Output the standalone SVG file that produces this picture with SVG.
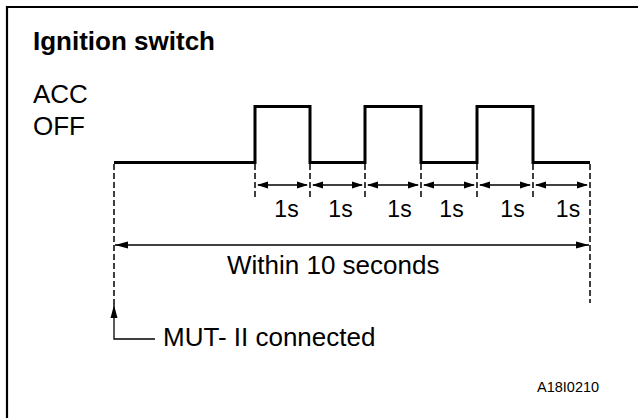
<svg xmlns="http://www.w3.org/2000/svg" width="638" height="418" viewBox="0 0 638 418">
<style>
text{font-family:"Liberation Sans",Arial,sans-serif;fill:#000}
.big{font-size:26px}
.sm{font-size:23px}
.wave{fill:none;stroke:#000;stroke-width:3;stroke-linejoin:miter}
.dash{fill:none;stroke:#000;stroke-width:1.5;stroke-dasharray:6 3}
.arr{fill:none;stroke:#000;stroke-width:1.3}
</style>
<defs>
<marker id="ah" markerUnits="userSpaceOnUse" markerWidth="12" markerHeight="10" refX="10" refY="4.5" orient="auto-start-reverse">
<path d="M0,1 L11,4.5 L0,8 Z" fill="#000"/>
</marker>
<marker id="ahL" markerUnits="userSpaceOnUse" markerWidth="14" markerHeight="10" refX="13" refY="4.5" orient="auto-start-reverse">
<path d="M0,1 L13,4.5 L0,8 Z" fill="#000"/>
</marker>
</defs>
<rect width="638" height="418" fill="#fff"/>
<path d="M7,430 V7 H650" fill="none" stroke="#000" stroke-width="2.2"/>
<g id="title"><text x="33" y="50" style="font-size:26px;font-weight:bold">Ignition switch</text></g>
<g id="labels">
<text class="big" x="33" y="103">ACC</text>
<text class="big" x="33" y="135">OFF</text>
</g>
<g id="waveform">
<path class="wave" d="M114,162.5 H255 V106.5 H310 V162.5 H365 V106.5 H421 V162.5 H477 V106.5 H533 V162.5 H590"/>
</g>
<g id="connectors">
<path class="dash" d="M255,164 V199 M310,164 V199 M365,164 V199 M421,164 V199 M477,164 V199 M533,164 V199"/>
<path class="dash" d="M590,164 V303"/>
<path class="dash" d="M114,164 V306"/>
<g class="arr" marker-start="url(#ah)" marker-end="url(#ah)">
<line x1="258" y1="185" x2="307" y2="185"/>
<line x1="313" y1="185" x2="362" y2="185"/>
<line x1="368" y1="185" x2="418" y2="185"/>
<line x1="424" y1="185" x2="474" y2="185"/>
<line x1="480" y1="185" x2="530" y2="185"/>
<line x1="536" y1="185" x2="587" y2="185"/>
</g>
<line class="arr" x1="115" y1="245" x2="589" y2="245" marker-start="url(#ahL)" marker-end="url(#ahL)"/>
<path class="arr" d="M155,339 H114 V305" marker-end="url(#ahL)"/>
</g>
<g id="durations">
<text class="sm" x="286.5" y="217" text-anchor="middle">1s</text>
<text class="sm" x="340.5" y="217" text-anchor="middle">1s</text>
<text class="sm" x="399.5" y="217" text-anchor="middle">1s</text>
<text class="sm" x="451.5" y="217" text-anchor="middle">1s</text>
<text class="sm" x="512.5" y="217" text-anchor="middle">1s</text>
<text class="sm" x="568" y="217" text-anchor="middle">1s</text>
</g>
<g id="within"><text class="big" x="227" y="274">Within 10 seconds</text></g>
<g id="mut"><text class="big" x="163" y="346">MUT- II connected</text></g>
<g id="code"><text x="537" y="392" style="font-size:14.5px">A18I0210</text></g>
</svg>
